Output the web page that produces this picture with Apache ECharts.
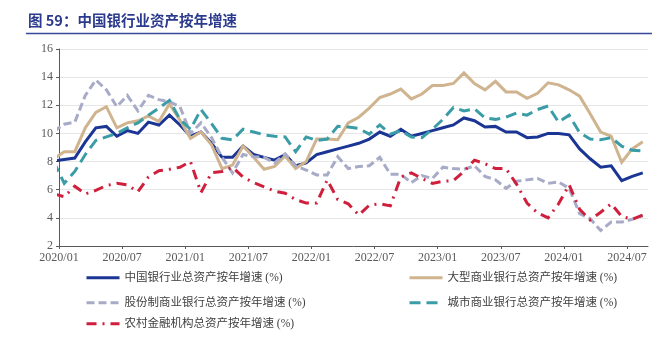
<!DOCTYPE html>
<html>
<head>
<meta charset="utf-8">
<script src="https://cdn.jsdelivr.net/npm/echarts@6/dist/echarts.min.js"></script>
<style>html,body{margin:0;padding:0;background:#fff}#c{width:660px;height:338px}</style>
</head>
<body>
<div id="c"></div>
<script>
// Monthly observations (2019/12 point lies just left of the axis start and is clipped)
const months = [
  '2019/12',
  '2020/01','2020/02','2020/03','2020/04','2020/05','2020/06','2020/07','2020/08','2020/09','2020/10','2020/11','2020/12',
  '2021/01','2021/02','2021/03','2021/04','2021/05','2021/06','2021/07','2021/08','2021/09','2021/10','2021/11','2021/12',
  '2022/01','2022/02','2022/03','2022/04','2022/05','2022/06','2022/07','2022/08','2022/09','2022/10','2022/11','2022/12',
  '2023/01','2023/02','2023/03','2023/04','2023/05','2023/06','2023/07','2023/08','2023/09','2023/10','2023/11','2023/12',
  '2024/01','2024/02','2024/03','2024/04','2024/05','2024/06','2024/07','2024/08'
];
const totalBanking = [
  8.05,
  8.15, 8.25, 9.4, 10.4, 10.5, 9.8, 10.2, 10.0, 10.8, 10.6, 11.3, 10.6,
  9.8, 10.1, 9.3, 8.3, 8.3, 9.1, 8.5, 8.3, 8.1, 8.5, 7.7, 7.9,
  8.5, 8.7, 8.9, 9.1, 9.3, 9.6, 10.1, 9.8, 10.3, 9.8, 10.0, 10.2,
  10.4, 10.6, 11.1, 10.9, 10.45, 10.5, 10.1, 10.1, 9.7, 9.75, 10.0, 10.0,
  9.9, 8.9, 8.2, 7.6, 7.7, 6.65, 6.95, 7.2
];
const largeBanks = [
  8.2,
  8.7, 8.7, 10.4, 11.5, 11.9, 10.4, 10.75, 10.9, 11.25, 10.85, 12.1, 10.95,
  9.65, 10.1, 9.2, 7.5, 7.75, 9.1, 8.3, 7.45, 7.65, 8.4, 7.5, 8.0,
  9.6, 9.6, 9.55, 10.75, 11.15, 11.8, 12.55, 12.8, 13.15, 12.45, 12.8, 13.4,
  13.4, 13.55, 14.3, 13.55, 13.1, 13.7, 12.95, 12.95, 12.5, 12.85, 13.6, 13.45,
  13.1, 12.65, 11.4, 10.1, 9.8, 7.95, 8.9, 9.4
];
const jointStockBanks = [
  10.15,
  10.65, 10.8, 12.7, 13.8, 13.1, 11.9, 12.7, 11.6, 12.7, 12.4, 12.25, 11.9,
  10.0, 10.75, 9.7, 8.3, 7.2, 8.5, 8.35, 8.3, 7.9, 8.55, 7.7, 7.4,
  7.05, 7.05, 8.35, 7.5, 7.65, 7.7, 8.3, 7.1, 7.1, 6.5, 7.0, 6.8,
  7.6, 7.5, 7.45, 7.7, 6.95, 6.7, 6.1, 6.6, 6.7, 6.8, 6.45, 6.55,
  6.1, 4.3, 3.95, 3.1, 3.7, 3.7, 3.9, 4.15
];
const cityBanks = [
  8.0,
  6.45, 7.3, 8.5, 9.5, 9.75, 10.0, 10.4, 10.75, 11.3, 11.8, 12.35, 11.0,
  10.3, 11.7, 10.7, 9.65, 9.55, 10.3, 10.1, 9.9, 9.8, 9.75, 8.7, 9.75,
  9.5, 9.6, 10.5, 10.45, 10.35, 9.95, 10.6, 9.95, 10.2, 9.75, 9.7, 10.3,
  11.0, 11.85, 11.6, 11.75, 11.1, 11.0, 11.15, 11.45, 11.3, 11.7, 11.95, 10.8,
  11.3, 10.05, 9.6, 9.55, 9.7, 9.1, 8.8, 8.75
];
const ruralInstitutions = [
  5.7,
  5.5, 6.25, 5.7, 5.95, 6.3, 6.45, 6.35, 5.85, 6.9, 7.35, 7.45, 7.6,
  8.0, 5.8, 7.2, 7.3, 7.6, 6.9, 6.5, 6.2, 5.9, 5.75, 5.3, 5.05,
  5.05, 6.7, 5.3, 5.0, 4.2, 4.9, 5.0, 4.85, 6.9, 7.2, 6.8, 6.45,
  6.6, 6.65, 7.3, 8.1, 7.85, 7.5, 7.5, 6.4, 5.05, 4.35, 4.0, 5.0,
  6.35, 4.6, 3.85, 4.4, 5.0, 4.1, 3.9, 4.2
];
const tickLabels = ['2020/01','2020/07','2021/01','2021/07','2022/01','2022/07','2023/01','2023/07','2024/01','2024/07'];
const seriesNames = [
  '中国银行业总资产按年增速 (%)',
  '大型商业银行总资产按年增速 (%)',
  '股份制商业银行总资产按年增速 (%)',
  '城市商业银行总资产按年增速 (%)',
  '农村金融机构总资产按年增速 (%)'
];
const yTicks = [2, 4, 6, 8, 10, 12, 14, 16];

// helpers: month string -> axis position (months since 2020/01, data sits mid-month)
const parseYM = s => { const p = s.split('/').map(Number); return (p[0] - 2020) * 12 + (p[1] - 1); };
const monthPos = s => parseYM(s) + 0.5;
const tickPos = tickLabels.map(parseYM);
const labelOf = {};
tickLabels.forEach((t, i) => { labelOf[tickPos[i]] = t; });

const NUM_FONT = '"Liberation Serif", "Noto Sans CJK SC", serif';
const CJK_FONT = '"Liberation Serif", "Noto Sans CJK SC", sans-serif';

const styles = [
  { color: '#1b3595', type: 'solid', width: 3 },
  { color: '#cfb48f', type: 'solid', width: 3 },
  { color: '#a7abc7', type: [8, 4], width: 3 },
  { color: '#3a9ca6', type: [11, 6], width: 3 },
  { color: '#cf1f3d', type: [10, 6, 2, 6], width: 3 }
];
const valueSets = [totalBanking, largeBanks, jointStockBanks, cityBanks, ruralInstitutions];

const series = valueSets.map((vals, i) => ({
  name: seriesNames[i],
  type: 'line',
  data: months.map((m, j) => [monthPos(m), vals[j]]),
  symbol: 'none',
  clip: true,
  animation: false,
  lineStyle: { color: styles[i].color, width: styles[i].width, type: styles[i].type, cap: 'butt', join: 'miter' },
  itemStyle: { color: styles[i].color },
  z: 2 + i
}));

const legendPos = [
  { left: 85, top: 272 },
  { left: 408, top: 272 },
  { left: 85, top: 297 },
  { left: 408, top: 297 },
  { left: 85, top: 318 }
];
const legends = seriesNames.map((n, i) => ({
  data: [n],
  left: legendPos[i].left,
  top: legendPos[i].top,
  orient: 'horizontal',
  itemWidth: 33,
  itemHeight: 12,
  itemGap: 0,
  padding: 0,
  selectedMode: false,
  itemStyle: { opacity: 0 },
  lineStyle: { color: styles[i].color, width: styles[i].width, type: styles[i].type, cap: 'butt', opacity: 1 },
  textStyle: { fontSize: 11.5, color: '#404040', fontFamily: CJK_FONT }
}));

const chart = echarts.init(document.getElementById('c'), null, { renderer: 'canvas' });
chart.setOption({
  animation: false,
  backgroundColor: '#ffffff',
  grid: { left: 59, right: 12, top: 49, bottom: 92, containLabel: false },
  xAxis: {
    type: 'value',
    min: 0,
    max: 56,
    interval: 6,
    axisLine: { show: true, lineStyle: { color: '#595959', width: 1 } },
    axisTick: { show: true, length: 3, customValues: tickPos, lineStyle: { color: '#595959' } },
    axisLabel: {
      customValues: tickPos,
      formatter: v => labelOf[v] || '',
      color: '#595959', fontSize: 12, fontFamily: NUM_FONT, margin: 6
    },
    splitLine: { show: false }
  },
  yAxis: {
    type: 'value',
    min: yTicks[0],
    max: yTicks[yTicks.length - 1],
    interval: 2,
    axisLine: { show: true, lineStyle: { color: '#595959', width: 1 } },
    axisTick: { show: true, length: 3, lineStyle: { color: '#595959' } },
    axisLabel: { color: '#595959', fontSize: 12, fontFamily: NUM_FONT, margin: 6 },
    splitLine: { show: true, lineStyle: { color: '#e6e6e6', width: 1 } }
  },
  legend: legends,
  series: series,
  graphic: [
    {
      type: 'text', left: 28, top: 13,
      style: { text: '图 59：中国银行业资产按年增速', fill: '#2b3a8c', font: 'bold 14.5px "Noto Sans CJK SC", sans-serif' }
    },
    {
      type: 'line', shape: { x1: 26, y1: 33.5, x2: 652, y2: 33.5 },
      style: { stroke: '#34479a', lineWidth: 1.5 }
    }
  ]
});
</script>
</body>
</html>
